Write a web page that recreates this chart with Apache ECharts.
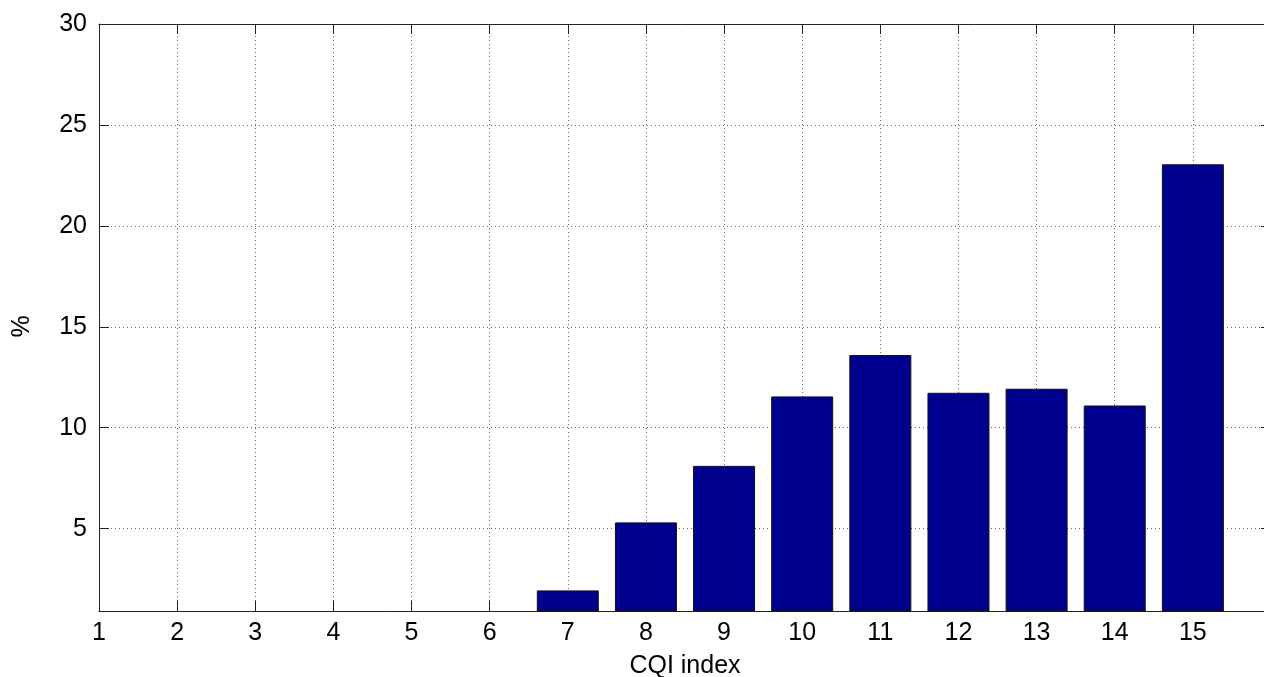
<!DOCTYPE html>
<html>
<head>
<meta charset="utf-8">
<script src="https://cdn.jsdelivr.net/npm/echarts@6/dist/echarts.min.js"></script>
<style>
html,body{margin:0;padding:0;background:#fff;}
#chart{width:1264px;height:677px;}
</style>
</head>
<body>
<div id="chart"></div>
<script>
var cqiIndex = [1, 2, 3, 4, 5, 6, 7, 8, 9, 10, 11, 12, 13, 14, 15];
var percent = [0, 0, 0, 0, 0, 0, 1.94, 5.31, 8.11, 11.55, 13.60, 11.73, 11.93, 11.10, 23.05];
var xRange = [1, 16];
var yRange = [0.92, 30];

var seriesData = cqiIndex.map(function (c, i) { return [c, percent[i]]; });

var font = 'Liberation Sans, Arial, Helvetica, sans-serif';
var axisColor = '#222';
var gridLine = { show: true, lineStyle: { color: '#666', type: [1, 3], width: 1 } };

var chart = echarts.init(document.getElementById('chart'), null, { renderer: 'canvas' });
chart.setOption({
  animation: false,
  backgroundColor: '#fff',
  grid: { left: 99, right: -7, top: 24, bottom: 66, containLabel: false, outerBoundsMode: 'none' },
  xAxis: [{
    type: 'value', min: xRange[0], max: xRange[1], interval: 1,
    name: 'CQI index', nameLocation: 'middle', nameGap: 43,
    nameTextStyle: { fontFamily: font, fontSize: 25, color: '#000' },
    axisLine: { show: true, onZero: false, lineStyle: { color: axisColor, width: 1 } },
    axisTick: { show: true, inside: true, length: 10, lineStyle: { color: axisColor } },
    axisLabel: { fontFamily: font, fontSize: 25, color: '#000', margin: 10,
      formatter: function (v) { return v <= 15 ? String(v) : ''; } },
    splitLine: gridLine
  }, {
    type: 'value', position: 'top', min: xRange[0], max: xRange[1], interval: 1,
    axisLine: { show: true, onZero: false, lineStyle: { color: axisColor, width: 1 } },
    axisTick: { show: true, inside: true, length: 10, lineStyle: { color: axisColor } },
    axisLabel: { show: false }, splitLine: { show: false }
  }],
  yAxis: [{
    type: 'value', min: yRange[0], max: yRange[1],
    name: '%', nameLocation: 'middle', nameGap: 64,
    nameTextStyle: { fontFamily: font, fontSize: 25, color: '#000', padding: [0, 18, 0, 0] },
    axisLine: { show: true, onZero: false, lineStyle: { color: axisColor, width: 1 } },
    axisTick: { show: true, inside: true, length: 10, lineStyle: { color: axisColor } },
    axisLabel: { fontFamily: font, fontSize: 25, color: '#000', margin: 12, showMinLabel: false },
    splitLine: gridLine
  }, {
    type: 'value', position: 'right', min: yRange[0], max: yRange[1],
    axisLine: { show: true, onZero: false, lineStyle: { color: axisColor, width: 1 } },
    axisTick: { show: true, inside: true, length: 10, lineStyle: { color: axisColor } },
    axisLabel: { show: false }, splitLine: { show: false }
  }],
  series: [{
    type: 'bar', xAxisIndex: 0, yAxisIndex: 0,
    data: seriesData, barWidth: 62, clip: true,
    itemStyle: { color: '#00008F', borderColor: '#111', borderWidth: 1 },
    z: 3
  }]
});
</script>
</body>
</html>
